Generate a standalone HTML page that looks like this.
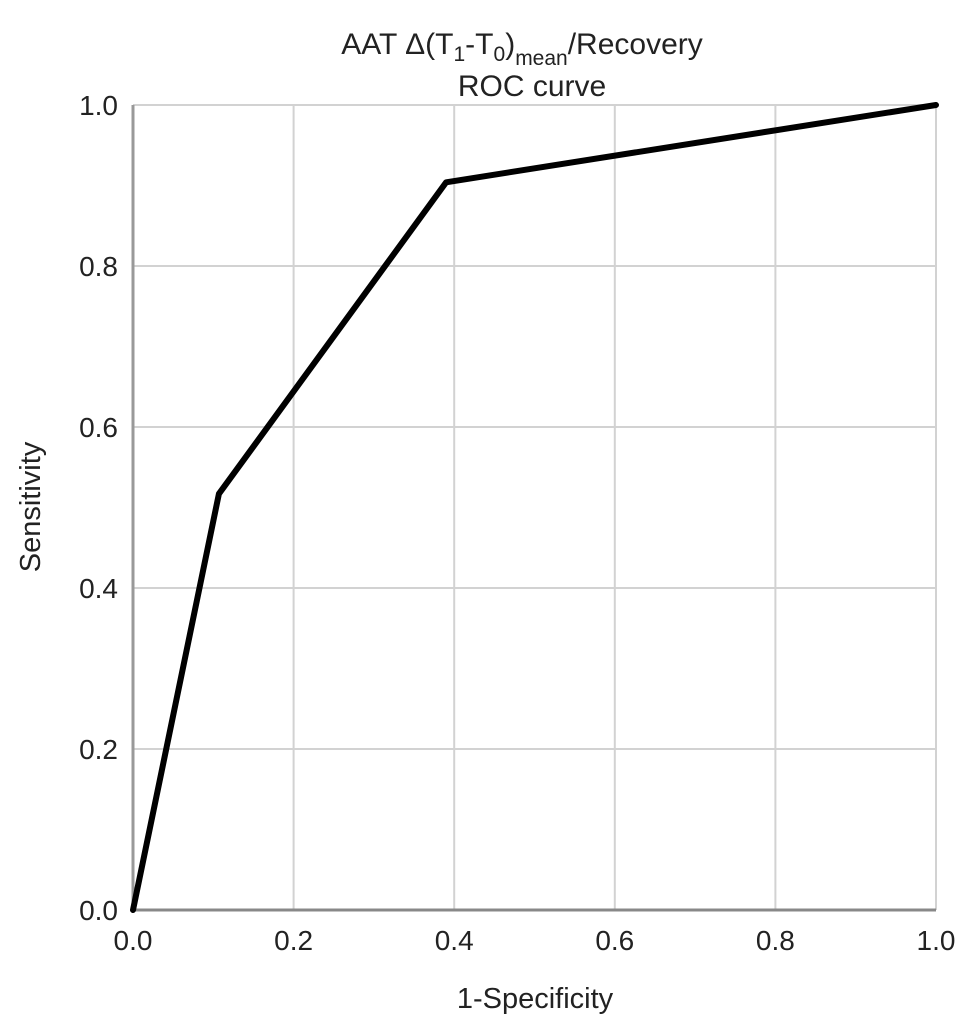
<!DOCTYPE html>
<html><head><meta charset="utf-8"><style>
html,body{margin:0;padding:0;background:#fff;}
svg{display:block;font-family:"Liberation Sans",sans-serif;}
</style></head><body>
<svg id="chart" width="969" height="1032" viewBox="0 0 969 1032">
<text x="522" y="54" text-anchor="middle" font-size="30" fill="#222">AAT Δ(T<tspan font-size="21" dy="7">1</tspan><tspan dy="-7">-T</tspan><tspan font-size="21" dy="7">0</tspan><tspan dy="-7">)</tspan><tspan font-size="21" dy="11">mean</tspan><tspan dy="-11">/Recovery</tspan></text>
<text x="532" y="96" text-anchor="middle" font-size="30" fill="#222">ROC curve</text>
<g id="grid"></g>
<g id="ticks"></g>
<text x="535" y="1008" text-anchor="middle" font-size="29" fill="#222">1-Specificity</text>
<text transform="translate(40,507) rotate(-90)" text-anchor="middle" font-size="29" fill="#222">Sensitivity</text>
<g id="series"></g>
</svg>
<script>
const xTicks=[0,0.2,0.4,0.6,0.8,1.0];
const yTicks=[0,0.2,0.4,0.6,0.8,1.0];
const fprValues=[0,0.107,0.39,1.0];
const tprValues=[0,0.517,0.904,1.0];
const X0=133,X1=936,Y0=910,Y1=105;
const sx=v=>X0+(X1-X0)*v;
const sy=v=>Y0-(Y0-Y1)*v;
const NS="http://www.w3.org/2000/svg";
const grid=document.getElementById('grid'),ticks=document.getElementById('ticks'),series=document.getElementById('series');
function mk(tag,attrs,parent){const e=document.createElementNS(NS,tag);for(const k in attrs)e.setAttribute(k,attrs[k]);parent.appendChild(e);return e;}
xTicks.forEach(v=>{
  if(v>0){const l=mk('line',{x1:sx(v),x2:sx(v),y1:Y1,y2:Y0,stroke:'#d2d2d2','stroke-width':2},grid);
  
  }
  const t=mk('text',{x:sx(v),y:950,'text-anchor':'middle','font-size':28,fill:'#222'},ticks);
  t.textContent=v.toFixed(1);
  
  
});
yTicks.forEach(v=>{
  if(v>0){const l=mk('line',{x1:X0,x2:X1,y1:sy(v),y2:sy(v),stroke:'#d2d2d2','stroke-width':2},grid);
  
  }
  const t=mk('text',{x:118,y:sy(v)+10,'text-anchor':'end','font-size':28,fill:'#222'},ticks);
  t.textContent=v.toFixed(1);
  
  
});
const ax=mk('line',{x1:X0,x2:X1,y1:Y0,y2:Y0,stroke:'#888','stroke-width':3},grid);


const ay=mk('line',{x1:X0,x2:X0,y1:Y1,y2:Y0,stroke:'#999','stroke-width':3},grid);


const pts=fprValues.map((v,i)=>sx(v)+','+sy(tprValues[i])).join(' ');
const pl=mk('polyline',{points:pts,fill:'none',stroke:'#000','stroke-width':6,'stroke-linejoin':'round','stroke-linecap':'round'},series);


</script>
</body></html>
